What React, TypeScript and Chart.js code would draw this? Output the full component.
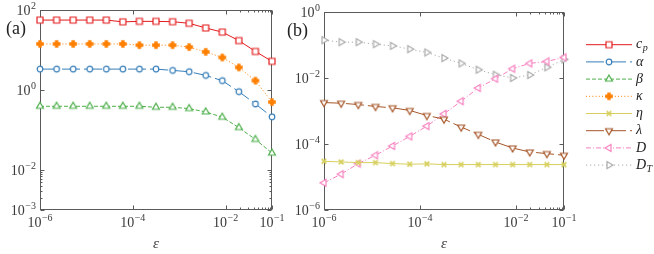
import React, { useEffect, useRef } from "react";
import { Chart, registerables } from "chart.js";
Chart.register(...registerables);

// ---------- data ----------
const epsValues = [1e-6, 2.28e-6, 5.18e-6, 1.18e-5, 2.68e-5, 6.11e-5, 1.39e-4, 3.16e-4, 7.2e-4, 1.64e-3, 3.73e-3, 8.48e-3, 1.93e-2, 4.39e-2, 1e-1];

const cpValues = [56, 56, 56, 56, 56, 50.5, 52, 52, 51, 46.5, 35.5, 28, 17.2, 9.2, 5.2];
const alphaValues = [3.33, 3.33, 3.33, 3.33, 3.33, 3.33, 3.33, 3.33, 3.09, 2.86, 2.32, 1.71, 0.91, 0.448, 0.213];
const betaValues = [0.392, 0.392, 0.392, 0.392, 0.392, 0.392, 0.392, 0.37, 0.37, 0.343, 0.283, 0.209, 0.115, 0.058, 0.0265];
const kappaValues = [14.2, 14.2, 14.2, 14.2, 14.2, 14.2, 13.2, 13.2, 13.2, 11.8, 9.0, 6.5, 3.67, 1.71, 0.5];

const etaValues = [3.0e-5, 2.86e-5, 2.73e-5, 2.73e-5, 2.55e-5, 2.44e-5, 2.5e-5, 2.38e-5, 2.38e-5, 2.38e-5, 2.38e-5, 2.38e-5, 2.38e-5, 2.38e-5, 2.38e-5];
const lambdaValues = [1.8e-3, 1.72e-3, 1.57e-3, 1.37e-3, 1.25e-3, 1.04e-3, 7.3e-4, 5.67e-4, 3.26e-4, 1.96e-4, 1.15e-4, 7.57e-5, 5.74e-5, 5.12e-5, 4.55e-5];
const DValues = [6.67e-6, 1.22e-5, 2.55e-5, 4.55e-5, 8.7e-5, 1.7e-4, 3.49e-4, 8.2e-4, 1.98e-3, 4.99e-3, 9.5e-3, 0.0191, 0.0277, 0.0318, 0.042];
const DTValues = [0.14, 0.122, 0.122, 0.106, 0.0944, 0.0749, 0.0594, 0.0401, 0.0277, 0.0178, 0.0126, 0.01, 0.0123, 0.021, 0.0366];

const xTickValues = [1e-6, 1e-4, 1e-2, 1e-1];
const xTickLabels = ["-6", "-4", "-2", "-1"];
const yTickValuesA = [1e2, 1e0, 1e-2, 1e-3];
const yTickLabelsA = ["2", "0", "-2", "-3"];
const yTickValuesB = [1e0, 1e-2, 1e-4, 1e-6];
const yTickLabelsB = ["0", "-2", "-4", "-6"];
const xMinorTicks = [2e-2, 3e-2, 4e-2, 5e-2, 6e-2, 7e-2, 8e-2, 9e-2];
const yMinorTicksA = [2e-3, 3e-3, 4e-3, 5e-3, 6e-3, 7e-3, 8e-3, 9e-3];

// ---------- styling ----------
const W = 654;
const H = 254;
const SERIF = '"Liberation Serif", "DejaVu Serif", serif';
const FRAME = "#5a5a5a";
const TEXT = "#3a3a3a";

type Kind = "square" | "circle" | "triUp" | "plus" | "x" | "triDown" | "triLeft" | "triRight";

function makeMarker(kind: Kind, color: string): HTMLCanvasElement {
  const s = 14;
  const c = document.createElement("canvas");
  c.width = s;
  c.height = s;
  const g = c.getContext("2d")!;
  const m = s / 2;
  g.lineWidth = 1.2;
  g.strokeStyle = color;
  g.fillStyle = "#ffffff";
  const tri = (ang: number) => {
    const r = 4.0;
    g.beginPath();
    for (let k = 0; k < 3; k++) {
      const a = ang + (k * 2 * Math.PI) / 3;
      const px = m + r * Math.cos(a);
      const py = m + r * Math.sin(a);
      if (k === 0) g.moveTo(px, py);
      else g.lineTo(px, py);
    }
    g.closePath();
    g.fill();
    g.stroke();
  };
  switch (kind) {
    case "square":
      g.beginPath();
      g.rect(m - 3, m - 3, 6, 6);
      g.fill();
      g.stroke();
      break;
    case "circle":
      g.beginPath();
      g.arc(m, m, 2.8, 0, Math.PI * 2);
      g.fill();
      g.stroke();
      break;
    case "triUp":
      tri(-Math.PI / 2);
      break;
    case "triDown":
      tri(Math.PI / 2);
      break;
    case "triLeft":
      tri(Math.PI);
      break;
    case "triRight":
      tri(0);
      break;
    case "plus": {
      const a = 3.8;
      const b = 1.7;
      g.fillStyle = color;
      g.beginPath();
      g.moveTo(m - b, m - a);
      g.lineTo(m + b, m - a);
      g.lineTo(m + b, m - b);
      g.lineTo(m + a, m - b);
      g.lineTo(m + a, m + b);
      g.lineTo(m + b, m + b);
      g.lineTo(m + b, m + a);
      g.lineTo(m - b, m + a);
      g.lineTo(m - b, m + b);
      g.lineTo(m - a, m + b);
      g.lineTo(m - a, m - b);
      g.lineTo(m - b, m - b);
      g.closePath();
      g.fill();
      break;
    }
    case "x":
      g.lineWidth = 1.7;
      g.beginPath();
      g.moveTo(m - 2.3, m - 2.3);
      g.lineTo(m + 2.3, m + 2.3);
      g.moveTo(m + 2.3, m - 2.3);
      g.lineTo(m - 2.3, m + 2.3);
      g.stroke();
      break;
  }
  return c;
}

type Spec = {
  label: string;
  sub: string;
  color: string;
  dash: number[];
  marker: Kind;
  values: number[];
};

const panelASeries: Spec[] = [
  { label: "c", sub: "p", color: "#e41a1c", dash: [], marker: "square", values: cpValues },
  { label: "α", sub: "", color: "#377eb8", dash: [18, 4], marker: "circle", values: alphaValues },
  { label: "β", sub: "", color: "#4daf4a", dash: [4, 2], marker: "triUp", values: betaValues },
  { label: "κ", sub: "", color: "#ff7f00", dash: [1, 2.2], marker: "plus", values: kappaValues },
];
const panelBSeries: Spec[] = [
  { label: "η", sub: "", color: "#d6cf5c", dash: [], marker: "x", values: etaValues },
  { label: "λ", sub: "", color: "#a65628", dash: [18, 4], marker: "triDown", values: lambdaValues },
  { label: "D", sub: "", color: "#f781bf", dash: [5, 2, 1, 2], marker: "triLeft", values: DValues },
  { label: "D", sub: "T", color: "#aaaaaa", dash: [1.2, 2.8], marker: "triRight", values: DTValues },
];

function drawPow(ctx: CanvasRenderingContext2D, exp: string, x: number, y: number, align: "center" | "right") {
  const exText = exp.replace("-", "\u2212");
  ctx.font = `14px ${SERIF}`;
  const wb = ctx.measureText("10").width;
  ctx.font = `10px ${SERIF}`;
  const we = ctx.measureText(exText).width;
  const total = wb + we + 0.5;
  const x0 = align === "center" ? x - total / 2 : x - total;
  ctx.textAlign = "left";
  ctx.textBaseline = "middle";
  ctx.font = `14px ${SERIF}`;
  ctx.fillText("10", x0, y);
  ctx.font = `10px ${SERIF}`;
  ctx.fillText(exText, x0 + wb + 0.5, y - 5);
}

function makeAxesPlugin(opts: {
  yTicks: number[];
  yLabels: string[];
  yMinor: number[];
  panel: string;
  panelX: number;
  panelY: number;
  legend?: Spec[];
}) {
  return {
    id: "axesFrame",
    beforeDatasetsDraw(chart: any) {
      const { ctx, chartArea: a, scales } = chart;
      const xs = scales.x;
      const ys = scales.y;
      ctx.save();
      ctx.strokeStyle = FRAME;
      ctx.lineWidth = 1;
      const L = Math.round(a.left) + 0.5;
      const R = Math.round(a.right) - 0.5;
      const T = Math.round(a.top) + 0.5;
      const B = Math.round(a.bottom) - 0.5;
      ctx.strokeRect(L, T, R - L, B - T);
      ctx.beginPath();
      const vx = (v: number, len: number) => {
        const p = Math.round(xs.getPixelForValue(v)) + 0.5;
        ctx.moveTo(p, B);
        ctx.lineTo(p, B - len);
        ctx.moveTo(p, T);
        ctx.lineTo(p, T + len);
      };
      const hy = (v: number, len: number) => {
        const p = Math.round(ys.getPixelForValue(v)) + 0.5;
        ctx.moveTo(L, p);
        ctx.lineTo(L + len, p);
        ctx.moveTo(R, p);
        ctx.lineTo(R - len, p);
      };
      xTickValues.forEach((v) => vx(v, 4));
      xMinorTicks.forEach((v) => vx(v, 2));
      opts.yTicks.forEach((v) => hy(v, 4));
      opts.yMinor.forEach((v) => hy(v, 2));
      ctx.stroke();
      ctx.restore();
    },
    afterDraw(chart: any) {
      const { ctx, chartArea: a, scales } = chart;
      const xs = scales.x;
      const ys = scales.y;
      ctx.save();
      ctx.fillStyle = TEXT;
      xTickValues.forEach((v, i) => drawPow(ctx, xTickLabels[i], xs.getPixelForValue(v), a.bottom + 13, "center"));
      opts.yTicks.forEach((v, i) => drawPow(ctx, opts.yLabels[i], a.left - 4, ys.getPixelForValue(v) + 1, "right"));
      // x-axis title
      ctx.font = `italic 15px ${SERIF}`;
      ctx.textAlign = "center";
      ctx.textBaseline = "middle";
      ctx.fillText("ε", (a.left + a.right) / 2, 244);
      // panel label
      ctx.fillStyle = "#222";
      ctx.font = `18px ${SERIF}`;
      ctx.textAlign = "left";
      ctx.fillText(opts.panel, opts.panelX, opts.panelY);
      // legend
      if (opts.legend) {
        const y0 = 44.7;
        const dy = 17.2;
        opts.legend.forEach((s, i) => {
          const y = y0 + i * dy;
          ctx.save();
          ctx.strokeStyle = s.color;
          ctx.lineWidth = 1;
          ctx.setLineDash(s.dash);
          ctx.beginPath();
          ctx.moveTo(586, y);
          ctx.lineTo(632, y);
          ctx.stroke();
          ctx.restore();
          const mk = makeMarker(s.marker, s.color);
          ctx.drawImage(mk, 609 - mk.width / 2, y - mk.height / 2);
          ctx.fillStyle = "#222";
          ctx.font = `italic 14px ${SERIF}`;
          ctx.textAlign = "left";
          ctx.textBaseline = "middle";
          ctx.fillText(s.label, 636, y);
          if (s.sub) {
            const w = ctx.measureText(s.label).width;
            ctx.font = `italic 10px ${SERIF}`;
            ctx.fillText(s.sub, 636 + w + 0.5, y + 4);
          }
        });
      }
      ctx.restore();
    },
  };
}

function buildDatasets(series: Spec[]) {
  return series.map((s) => ({
    label: s.sub ? `${s.label}_${s.sub}` : s.label,
    data: epsValues.map((x, i) => ({ x, y: s.values[i] })),
    borderColor: s.color,
    borderWidth: 1,
    borderDash: s.dash,
    backgroundColor: s.color,
    pointStyle: makeMarker(s.marker, s.color) as any,
    pointRadius: 3,
    pointHoverRadius: 3,
    tension: 0,
    fill: false,
    clip: false as any,
  }));
}

function makeConfig(
  series: Spec[],
  pad: { left: number; right: number; top: number; bottom: number },
  yMin: number,
  yMax: number,
  plugin: any
): any {
  return {
    type: "line",
    data: { datasets: buildDatasets(series) },
    options: {
      animation: false,
      responsive: false,
      maintainAspectRatio: false,
      devicePixelRatio: 1,
      events: [],
      layout: { padding: pad },
      scales: {
        x: { type: "logarithmic", min: 1e-6, max: 1e-1, display: false },
        y: { type: "logarithmic", min: yMin, max: yMax, display: false },
      },
      plugins: { legend: { display: false }, tooltip: { enabled: false } },
    },
    plugins: [plugin],
  };
}

export default function App() {
  const refA = useRef<HTMLCanvasElement | null>(null);
  const refB = useRef<HTMLCanvasElement | null>(null);

  useEffect(() => {
    const chartA = new Chart(
      refA.current!,
      makeConfig(
        panelASeries,
        { left: 40, right: W - 272, top: 10, bottom: H - 210 },
        1e-3,
        1e2,
        makeAxesPlugin({
          yTicks: yTickValuesA,
          yLabels: yTickLabelsA,
          yMinor: yMinorTicksA,
          panel: "(a)",
          panelX: 6,
          panelY: 29,
        })
      )
    );
    const chartB = new Chart(
      refB.current!,
      makeConfig(
        panelBSeries,
        { left: 324, right: W - 564, top: 12, bottom: H - 210 },
        1e-6,
        1e0,
        makeAxesPlugin({
          yTicks: yTickValuesB,
          yLabels: yTickLabelsB,
          yMinor: [],
          panel: "(b)",
          panelX: 287,
          panelY: 31,
          legend: [...panelASeries, ...panelBSeries],
        })
      )
    );
    return () => {
      chartA.destroy();
      chartB.destroy();
    };
  }, []);

  const cs: React.CSSProperties = { position: "absolute", left: 0, top: 0, width: W, height: H };
  return (
    <div style={{ position: "fixed", left: 0, top: 0, width: W, height: H, background: "#fff" }}>
      <canvas ref={refA} width={W} height={H} style={cs} />
      <canvas ref={refB} width={W} height={H} style={cs} />
    </div>
  );
}
